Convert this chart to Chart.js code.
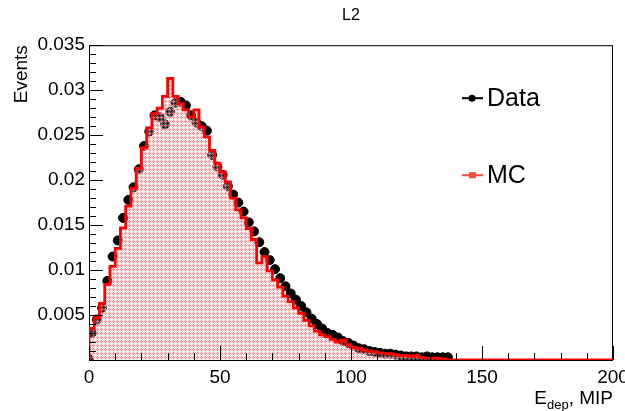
<!DOCTYPE html>
<html>
<head>
<meta charset="utf-8">
<script src="https://cdn.jsdelivr.net/npm/chart.js@4.4.0/dist/chart.umd.min.js"></script>
<style>
  html, body { margin: 0; padding: 0; background: #fff; }
  #wrap { width: 625px; height: 411px; }
</style>
</head>
<body>
<div id="wrap"><canvas id="c" width="625" height="411"></canvas></div>
<script>
// histogram binning (MIP)
const binWidth = 2;

// MC histogram, one value per 2-MIP bin starting at 0
const mcValues = [
  0.0019, 0.0035, 0.0047, 0.0063, 0.0084, 0.0104, 0.0124, 0.0147, 0.0171, 0.0191,
  0.0213, 0.0236, 0.0258, 0.0274, 0.0280, 0.0293, 0.0313, 0.0293, 0.0285, 0.0278,
  0.0270, 0.0278, 0.0259, 0.0248, 0.0233, 0.0219, 0.0209, 0.0198, 0.0180, 0.0167,
  0.0158, 0.0146, 0.0134, 0.0108, 0.0115, 0.0099, 0.0089, 0.0081, 0.0071, 0.0065,
  0.0058, 0.0052, 0.0044, 0.0038, 0.0032, 0.0028, 0.0026, 0.0023, 0.0020, 0.0022,
  0.0017, 0.0014, 0.0013, 0.0011, 0.0010, 0.0009, 0.0008, 0.0007, 0.0007, 0.0006,
  0.0005, 0.0005, 0.0004, 0.0005, 0.0003, 0.0002, 0.0002, 0.0002, 0.0001, 0,
  0, 0, 0, 0, 0, 0, 0, 0, 0, 0,
  0, 0, 0, 0, 0, 0, 0, 0, 0, 0,
  0, 0, 0, 0, 0, 0, 0, 0, 0, 0
];

// measured data points (x in MIP, y in events)
const dataX = [
  0, 1, 3, 5, 7, 9, 11, 13, 15, 17, 19,
  21, 23, 25, 27, 29, 31, 33, 35, 37, 39,
  41, 43, 45, 47, 49, 51, 53, 55, 57, 59,
  61, 63, 65, 67, 69, 71, 73, 75, 77, 79,
  81, 83, 85, 87, 89, 91, 93, 95, 97, 99,
  101, 103, 105, 107, 109, 111, 113, 115, 117, 119,
  121, 123, 125, 127, 129, 131, 133, 135, 137
];
const dataY = [
  0.0001, 0.0030, 0.0045, 0.0058, 0.0088, 0.0115, 0.0133, 0.0158, 0.0178, 0.0192, 0.0212,
  0.0238, 0.0254, 0.0272, 0.0270, 0.0262, 0.0276, 0.0286, 0.0287, 0.0283, 0.0272,
  0.0264, 0.0260, 0.0255, 0.0228, 0.0215, 0.0206, 0.0193, 0.0184, 0.0175, 0.0165,
  0.0153, 0.0143, 0.0131, 0.0120, 0.0111, 0.0101, 0.0091, 0.0082, 0.0074, 0.0067,
  0.0060, 0.0053, 0.0046, 0.0040, 0.0035, 0.0030, 0.0028, 0.0025, 0.0021, 0.0019,
  0.0016, 0.0013, 0.0012, 0.0010, 0.0009, 0.0008, 0.0007, 0.0007, 0.0006, 0.0005,
  0.0004, 0.0004, 0.0004, 0.0003, 0.0004, 0.0003, 0.0003, 0.0003, 0.0003
];

const xTicks = [0, 50, 100, 150, 200];
const yTicks = [0, 0.005, 0.01, 0.015, 0.02, 0.025, 0.03, 0.035];
const yTickLabels = ["", "0.005", "0.01", "0.015", "0.02", "0.025", "0.03", "0.035"];
const xMinorStep = 10;
const yMinorStep = 0.001;

const FONT = '"Liberation Sans", Arial, Helvetica, sans-serif';

// small diamond hatch with see-through gaps, like ROOT fill style
function makeHatch() {
  const c = document.createElement("canvas");
  c.width = 4;
  c.height = 4;
  const g = c.getContext("2d");
  g.fillStyle = "rgba(245,190,190,0.35)";
  g.fillRect(0, 0, 4, 4);
  g.clearRect(3, 3, 1, 1);
  g.fillStyle = "rgba(232,120,120,0.85)";
  g.fillRect(1, 0, 1, 1);
  g.fillRect(0, 1, 1, 1);
  g.fillRect(2, 1, 1, 1);
  g.fillRect(1, 2, 1, 1);
  g.fillStyle = "rgba(242,180,180,0.8)";
  g.fillRect(1, 1, 1, 1);
  return g.createPattern(c, "repeat");
}

const mcPoints = [{ x: 0, y: 0 }];
mcValues.forEach((v, i) => mcPoints.push({ x: i * binWidth, y: v }));
mcPoints.push({ x: mcValues.length * binWidth, y: mcValues[mcValues.length - 1] });

const dataPoints = dataX.map((x, i) => ({ x: x, y: dataY[i] }));

// frame + inward ticks like ROOT
const rootAxes = {
  id: "rootAxes",
  beforeDatasetsDraw(chart) {
    const { ctx, chartArea: a } = chart;
    ctx.save();
    ctx.strokeStyle = "#000";
    ctx.lineWidth = 1;
    ctx.strokeRect(a.left + 0.5, a.top + 0.5, a.right - a.left - 1, a.bottom - a.top);
    ctx.restore();
  },
  afterDatasetsDraw(chart) {
    const { ctx, chartArea: a, scales } = chart;
    const x = scales.x, y = scales.y;
    ctx.save();
    ctx.strokeStyle = "#000";
    ctx.lineWidth = 1;
    ctx.beginPath();
    for (let v = y.min; v <= y.max + 1e-9; v += yMinorStep) {
      const py = Math.round(y.getPixelForValue(v)) + 0.5;
      const major = Math.abs(v / 0.005 - Math.round(v / 0.005)) < 1e-6;
      ctx.moveTo(a.left, py);
      ctx.lineTo(a.left + (major ? 14 : 7), py);
    }
    for (let v = x.min; v <= x.max + 1e-9; v += xMinorStep) {
      const px = Math.round(x.getPixelForValue(v)) + 0.5;
      const major = v % 50 === 0;
      ctx.moveTo(px, a.bottom);
      ctx.lineTo(px, a.bottom - (major ? 14 : 7));
    }
    ctx.stroke();
    ctx.restore();
  },
  afterDraw(chart) {
    const { ctx, chartArea: a } = chart;
    ctx.save();
    ctx.fillStyle = "#000";
    ctx.textBaseline = "alphabetic";
    // x axis title with subscript, right aligned to the frame
    const big = "19px " + FONT, small = "13px " + FONT;
    ctx.font = big;
    const wE = ctx.measureText("E").width;
    const wRest = ctx.measureText(", MIP").width;
    ctx.font = small;
    const wSub = ctx.measureText("dep").width;
    let px = a.right - (wE + wSub + wRest);
    const base = a.bottom + 44;
    ctx.font = big;
    ctx.fillText("E", px, base);
    px += wE;
    ctx.font = small;
    ctx.fillText("dep", px, base + 5);
    px += wSub;
    ctx.font = big;
    ctx.fillText(", MIP", px, base);

    // legend inside the frame
    const ds = chart.data.datasets;
    ctx.font = "25px " + FONT;
    ctx.textBaseline = "middle";
    const rows = [
      { d: ds[1], y: a.top + 53 },
      { d: ds[0], y: a.top + 130 }
    ];
    rows.forEach(r => {
      const mx = a.left + 383;
      ctx.strokeStyle = r.d.legendColor;
      ctx.fillStyle = r.d.legendColor;
      ctx.lineWidth = 2;
      ctx.beginPath();
      ctx.moveTo(mx - 10, r.y);
      ctx.lineTo(mx + 11, r.y);
      ctx.stroke();
      ctx.beginPath();
      if (r.d.label === "MC") {
        ctx.fillRect(mx - 3, r.y - 3, 7, 6);
      } else {
        ctx.arc(mx, r.y, 3.5, 0, Math.PI * 2);
        ctx.fill();
      }
      ctx.fillStyle = "#000";
      ctx.fillText(r.d.label, mx + 15, r.y + 1);
    });
    ctx.restore();
  }
};

new Chart(document.getElementById("c"), {
  type: "scatter",
  data: {
    datasets: [
      {
        label: "MC",
        data: mcPoints,
        showLine: true,
        stepped: "after",
        fill: "origin",
        backgroundColor: makeHatch(),
        borderColor: "#ff0000",
        borderWidth: 2.8,
        pointRadius: 0,
        legendColor: "#f0503c",
        order: 0
      },
      {
        label: "Data",
        data: dataPoints,
        showLine: false,
        pointRadius: 4.5,
        pointBackgroundColor: "#000",
        pointBorderColor: "#000",
        legendColor: "#000",
        order: 1
      }
    ]
  },
  options: {
    responsive: false,
    animation: false,
    devicePixelRatio: 1,
    layout: { padding: { left: 0, right: 12, top: 0, bottom: 0 } },
    plugins: {
      legend: { display: false },
      tooltip: { enabled: false },
      title: {
        display: true,
        text: "L2",
        fullSize: false,
        color: "#000",
        font: { family: FONT, size: 16, weight: "normal" },
        padding: { top: 6, bottom: 20 }
      }
    },
    scales: {
      x: {
        type: "linear",
        min: 0,
        max: 200,
        grid: { display: false, drawTicks: false },
        border: { display: false },
        afterBuildTicks: s => { s.ticks = xTicks.map(v => ({ value: v })); },
        afterFit: s => { s.height = 51; s.paddingLeft = 0; s.paddingRight = 0; },
        ticks: {
          color: "#000",
          padding: 6,
          maxRotation: 0,
          font: { family: FONT, size: 19 },
          callback: v => String(v)
        }
      },
      y: {
        type: "linear",
        min: 0,
        max: 0.035,
        grid: { display: false, drawTicks: false },
        border: { display: false },
        afterBuildTicks: s => { s.ticks = yTicks.map(v => ({ value: v })); },
        afterFit: s => { s.width = 89; s.paddingTop = 0; s.paddingBottom = 0; },
        title: {
          display: true,
          text: "Events",
          align: "end",
          color: "#000",
          font: { family: FONT, size: 19 },
          padding: { top: 10, bottom: 0 }
        },
        ticks: {
          color: "#000",
          padding: 4,
          font: { family: FONT, size: 19 },
          callback: v => yTickLabels[yTicks.indexOf(v)] ?? ""
        }
      }
    }
  },
  plugins: [rootAxes]
});
</script>
</body>
</html>
